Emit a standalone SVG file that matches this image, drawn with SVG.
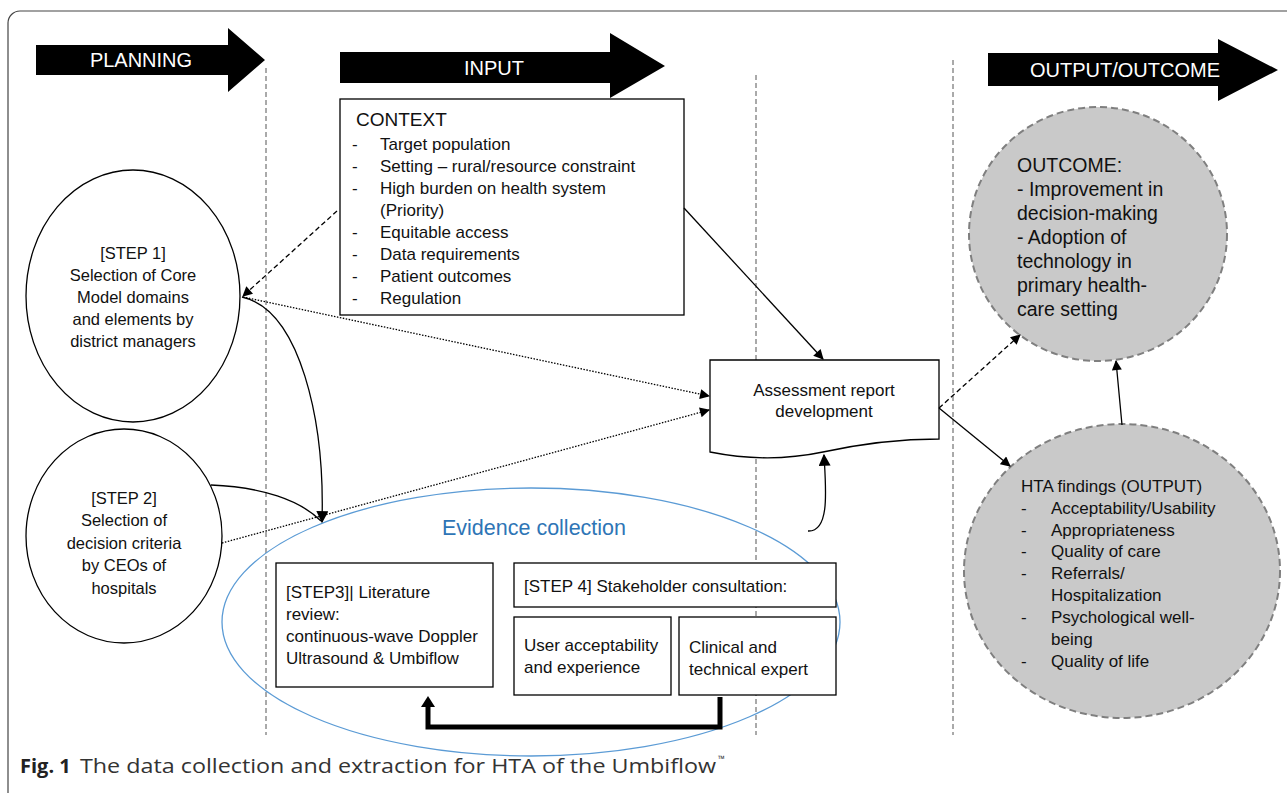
<svg xmlns="http://www.w3.org/2000/svg" width="1287" height="793" viewBox="0 0 1287 793">
<defs>
<style>
text{font-family:"Liberation Sans",Arial,sans-serif;fill:#111;}
.t16{font-size:16.5px;}
.t17{font-size:17px;}
.t19{font-size:19.5px;}
.band{font-size:20px;fill:#fff;}
.box{fill:#fff;stroke:#000;stroke-width:1.3;}
.vdash{stroke:#555;stroke-width:1;stroke-dasharray:5,3;fill:none;}
.grey{fill:#c9c9c9;stroke:#7f7f7f;stroke-width:2;stroke-dasharray:7,4;}
.c{stroke:#000;fill:none;stroke-width:1.3;}
.cap{font-family:"Open Sans","Liberation Sans",sans-serif;font-size:20px;fill:#333;}
</style>
<marker id="ah" viewBox="0 0 10 10" refX="9" refY="5" markerWidth="11" markerHeight="10" markerUnits="userSpaceOnUse" orient="auto"><path d="M0,0 L10,5 L0,10 z" fill="#000"/></marker>
<marker id="ahb" viewBox="0 0 10 10" refX="9" refY="5" markerWidth="13" markerHeight="12" markerUnits="userSpaceOnUse" orient="auto"><path d="M0,0 L10,5 L0,10 z" fill="#000"/></marker>
</defs>
<rect x="0" y="0" width="1287" height="793" fill="#fff"/>
<rect id="frame" x="8" y="11" width="1300" height="800" rx="12" fill="none" stroke="#444" stroke-width="1.2"/>

<g id="band-planning">
<path d="M36,45 H228 V28 L265,60 L228,92 V75 H36 Z" fill="#000"/>
<text class="band" x="141" y="67" text-anchor="middle">PLANNING</text>
</g>
<g id="band-input">
<path d="M340,52 H610 V33 L665,66 L610,98 V83 H340 Z" fill="#000"/>
<text class="band" x="494" y="75" text-anchor="middle">INPUT</text>
</g>
<g id="band-output">
<path d="M988,53 H1218 V39 L1278,70 L1218,101 V86 H988 Z" fill="#000"/>
<text class="band" x="1125" y="77" text-anchor="middle">OUTPUT/OUTCOME</text>
</g>

<g id="separators">
<line class="vdash" x1="266" y1="68" x2="266" y2="735"/>
<line class="vdash" x1="756" y1="75" x2="756" y2="735"/>
<line class="vdash" x1="953" y1="60" x2="953" y2="735"/>
</g>

<g id="context">
<rect class="box" x="340" y="99" width="344" height="216"/>
<text x="356" y="126" style="font-size:19px">CONTEXT</text>
<g class="t17">
<text x="352" y="150">-</text><text x="380" y="150">Target population</text>
<text x="352" y="172">-</text><text x="380" y="172">Setting – rural/resource constraint</text>
<text x="352" y="194">-</text><text x="380" y="194">High burden on health system</text>
<text x="380" y="216">(Priority)</text>
<text x="352" y="238">-</text><text x="380" y="238">Equitable access</text>
<text x="352" y="260">-</text><text x="380" y="260">Data requirements</text>
<text x="352" y="282">-</text><text x="380" y="282">Patient outcomes</text>
<text x="352" y="304">-</text><text x="380" y="304">Regulation</text>
</g>
</g>

<g id="step1">
<ellipse class="box" cx="133" cy="296" rx="107" ry="126"/>
<g class="t16" text-anchor="middle">
<text x="133" y="259">[STEP 1]</text>
<text x="133" y="281">Selection of Core</text>
<text x="133" y="303">Model domains</text>
<text x="133" y="325">and elements by</text>
<text x="133" y="347">district managers</text>
</g>
</g>

<g id="step2">
<ellipse class="box" cx="124" cy="536" rx="98" ry="107"/>
<g class="t16" text-anchor="middle">
<text x="124" y="504">[STEP 2]</text>
<text x="124" y="526">Selection of</text>
<text x="124" y="549">decision criteria</text>
<text x="124" y="571">by CEOs of</text>
<text x="124" y="594">hospitals</text>
</g>
</g>

<g id="evidence">
<ellipse cx="531" cy="622" rx="309" ry="134" fill="none" stroke="#5b9bd5" stroke-width="1.3"/>
<text x="534" y="535" text-anchor="middle" style="font-size:21.5px;fill:#2e75b6">Evidence collection</text>
</g>

<g id="step3">
<rect class="box" x="276" y="563" width="217" height="124"/>
<g class="t17">
<text x="286" y="598">[STEP3]| Literature</text>
<text x="286" y="620">review:</text>
<text x="286" y="642">continuous-wave Doppler</text>
<text x="286" y="664">Ultrasound &amp; Umbiflow</text>
</g>
</g>

<g id="step4">
<rect class="box" x="514" y="563" width="322" height="44"/>
<text class="t17" x="524" y="592">[STEP 4] Stakeholder consultation:</text>
</g>

<g id="user">
<rect class="box" x="514" y="617" width="157" height="78"/>
<text class="t17" x="524" y="651">User acceptability</text>
<text class="t17" x="524" y="673">and experience</text>
</g>

<g id="clinical">
<rect class="box" x="679" y="617" width="157" height="78"/>
<text class="t17" x="689" y="653">Clinical and</text>
<text class="t17" x="689" y="675">technical expert</text>
</g>

<g id="assessment">
<path class="box" d="M710,360 H939 V439 C900,439 860,444 823,452 C790,459 750,460 710,452 Z"/>
<text class="t17" x="824" y="396" text-anchor="middle">Assessment report</text>
<text class="t17" x="824" y="417" text-anchor="middle">development</text>
</g>

<g id="outcome">
<ellipse class="grey" cx="1098" cy="234" rx="129" ry="127"/>
<g class="t19">
<text x="1017" y="172">OUTCOME:</text>
<text x="1017" y="196">- Improvement in</text>
<text x="1017" y="220">decision-making</text>
<text x="1017" y="244">- Adoption of</text>
<text x="1017" y="268">technology in</text>
<text x="1017" y="292">primary health-</text>
<text x="1017" y="316">care setting</text>
</g>
</g>

<g id="hta">
<ellipse class="grey" cx="1122" cy="571" rx="158" ry="147"/>
<g class="t17">
<text x="1021" y="492">HTA findings (OUTPUT)</text>
<text x="1021" y="514">-</text><text x="1051" y="514">Acceptability/Usability</text>
<text x="1021" y="536">-</text><text x="1051" y="536">Appropriateness</text>
<text x="1021" y="557">-</text><text x="1051" y="557">Quality of care</text>
<text x="1021" y="579">-</text><text x="1051" y="579">Referrals/</text>
<text x="1051" y="601">Hospitalization</text>
<text x="1021" y="623">-</text><text x="1051" y="623">Psychological well-</text>
<text x="1051" y="645">being</text>
<text x="1021" y="667">-</text><text x="1051" y="667">Quality of life</text>
</g>
</g>

<g id="connectors">
<line class="c" x1="684" y1="208" x2="823" y2="359" marker-end="url(#ah)"/>
<line class="c" x1="337" y1="211" x2="243" y2="296" stroke-dasharray="5,3" marker-end="url(#ah)"/>
<line class="c" x1="243" y1="297" x2="709" y2="396" stroke-dasharray="1.5,1.5" marker-end="url(#ah)"/>
<line class="c" x1="222" y1="543" x2="709" y2="410" stroke-dasharray="1.5,1.5" marker-end="url(#ah)"/>
<path class="c" d="M242,297 C300,310 325,420 322,522" stroke-width="2" marker-end="url(#ahb)"/>
<path class="c" d="M211,485 C262,487 300,500 321,521" stroke-width="2"/>
<path class="c" d="M808,531 C830,532 826,490 824,455" stroke-width="2" marker-end="url(#ahb)"/>
<line class="c" x1="939" y1="408" x2="1020" y2="335" stroke-dasharray="5,3" marker-end="url(#ah)"/>
<line class="c" x1="939" y1="408" x2="1010" y2="466" marker-end="url(#ah)"/>
<line class="c" x1="1122" y1="425" x2="1116" y2="361" marker-end="url(#ah)"/>
<path d="M720,697 V727 H428 V706" fill="none" stroke="#000" stroke-width="5"/>
<path d="M421,707 L428,696 L435,707 Z" fill="#000"/>
</g>

<g id="caption">
<text class="cap" x="20" y="773" style="font-weight:bold;fill:#222">Fig. 1</text>
<text class="cap" x="80" y="773" textLength="636" lengthAdjust="spacingAndGlyphs">The data collection and extraction for HTA of the Umbiflow</text>
<text class="cap" x="718" y="762" style="font-size:9px">™</text>
</g>
</svg>
